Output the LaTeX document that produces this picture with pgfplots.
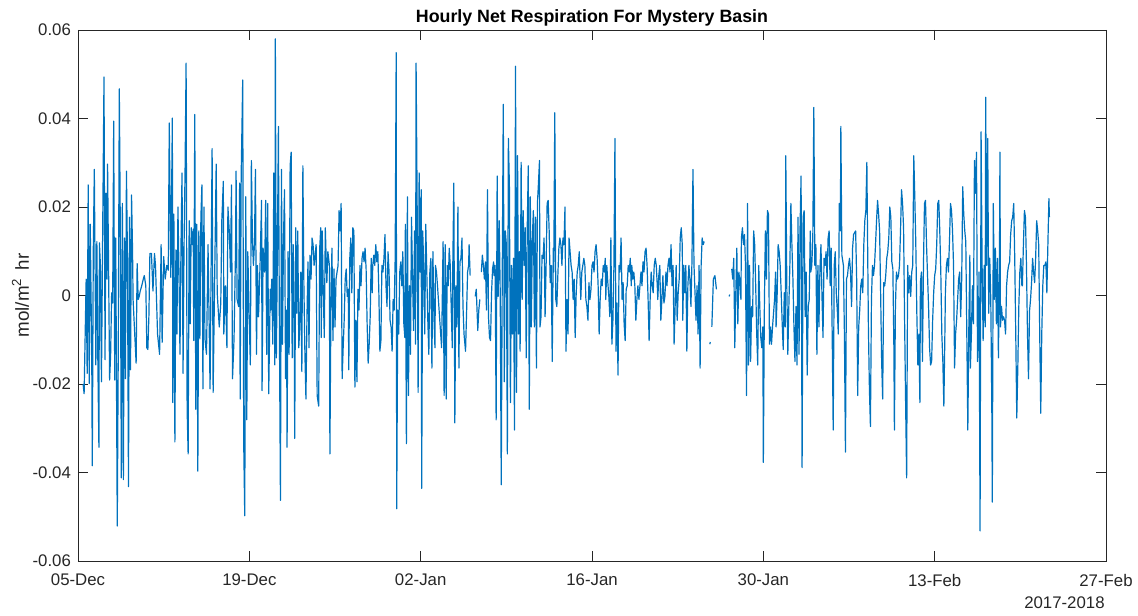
\documentclass[border=0pt]{standalone}
\usepackage{fontspec}
\setmainfont{Liberation Sans}
\usepackage{pgfplots}
\usepackage{pgfplotstable}
\pgfplotsset{compat=1.18}
\definecolor{mblue}{RGB}{0,114,189}
\definecolor{axgray}{RGB}{38,38,38}
\pgfplotstableread{
h v
10 -0.0200
12 -0.0222
16 0.0037
18 -0.0176
20 0.0250
22 -0.0199
24 0.0161
27 -0.0141
28 -0.0385
30 0.0103
32 0.0285
35 -0.0157
37 0.0122
39 -0.0157
41 -0.0343
42 0.0119
44 0.0068
46 -0.0195
48 0.0091
51 0.0494
53 -0.0145
55 0.0231
57 0.0037
58 0.0297
60 0.0057
62 -0.0191
64 -0.0133
66 0.0006
68 -0.0017
70 0.0394
72 -0.0191
74 0.0130
77 -0.0521
79 -0.0118
81 0.0467
83 0.0146
85 -0.0412
87 0.0208
89 -0.0416
91 0.0130
93 -0.0188
95 0.0281
97 0.0084
99 -0.0432
101 0.0177
103 -0.0168
105 0.0227
107 0.0099
108 -0.0009
114 -0.0153
116 0.0072
118 -0.0009
120 -0.0002
122 0.0010
125 0.0022
128 0.0037
130 0.0045
133 0.0022
135 -0.0118
137 -0.0122
139 -0.0048
141 0.0095
144 0.0095
147 0.0010
150 0.0095
152 0.0068
156 -0.0087
160 -0.0133
163 0.0115
165 -0.0106
168 0.0088
171 0.0037
174 0.0068
177 0.0057
179 0.0390
182 0.0041
185 0.0401
186 -0.0242
188 0.0184
190 -0.0331
192 0.0103
194 -0.0087
196 0.0200
198 0.0053
200 -0.0133
202 0.0115
204 0.0277
206 -0.0176
208 0.0115
210 0.0285
212 0.0525
214 -0.0257
216 -0.0358
218 0.0169
220 -0.0064
222 0.0153
224 0.0115
226 0.0150
227 -0.0102
229 0.0409
231 -0.0257
233 0.0161
235 -0.0397
237 0.0146
239 -0.0098
241 0.0177
243 0.0250
245 -0.0211
247 0.0200
249 -0.0098
252 -0.0133
255 0.0115
259 -0.0211
263 0.0332
265 -0.0219
271 0.0297
273 0.0006
277 -0.0071
280 -0.0017
282 0.0169
285 0.0258
286 -0.0087
289 0.0022
292 -0.0118
294 0.0200
297 0.0138
299 0.0053
301 0.0250
303 -0.0188
306 -0.0098
309 0.0107
310 0.0281
312 -0.0009
315 -0.0025
317 0.0254
318 -0.0234
320 0.0270
323 0.0487
325 -0.0335
327 -0.0498
329 0.0223
331 -0.0281
333 0.0099
336 -0.0064
338 -0.0157
340 0.0305
342 0.0130
344 0.0068
346 0.0115
348 0.0285
350 -0.0133
352 0.0068
354 -0.0048
357 0.0068
360 0.0215
361 -0.0215
363 0.0107
366 0.0053
368 0.0215
370 -0.0133
372 0.0208
374 -0.0222
377 0.0014
378 -0.0033
380 0.0037
382 -0.0110
384 0.0277
386 -0.0157
387 0.0580
389 -0.0141
391 0.0099
393 0.0382
395 -0.0079
397 -0.0463
399 0.0285
401 -0.0110
403 0.0130
405 0.0239
407 -0.0188
409 -0.0033
410 -0.0343
412 0.0099
414 -0.0133
416 0.0293
418 0.0324
420 -0.0141
422 0.0115
424 -0.0071
425 -0.0323
427 0.0153
429 -0.0040
431 0.0146
433 -0.0118
435 -0.0071
437 0.0053
439 -0.0172
441 0.0293
443 0.0022
445 -0.0133
447 -0.0234
449 -0.0048
451 0.0076
453 -0.0118
455 0.0091
457 0.0037
459 0.0130
461 0.0115
463 0.0068
465 0.0091
467 0.0115
469 -0.0226
472 -0.0250
474 0.0107
476 0.0153
477 -0.0095
479 0.0146
481 0.0006
483 -0.0095
485 0.0153
488 0.0029
490 0.0099
493 0.0068
494 -0.0358
496 -0.0025
498 0.0107
500 -0.0102
502 0.0060
504 -0.0071
506 0.0037
508 0.0053
510 0.0068
512 0.0192
514 0.0146
516 0.0208
518 -0.0188
520 -0.0118
522 -0.0056
524 0.0037
526 0.0060
528 -0.0002
530 0.0014
531 -0.0168
533 0.0084
535 0.0130
537 0.0006
539 0.0153
541 0.0146
543 -0.0207
545 -0.0056
547 -0.0195
549 0.0014
551 -0.0033
553 0.0068
555 0.0022
557 0.0084
559 0.0099
561 0.0076
563 0.0107
565 0.0060
567 -0.0064
569 -0.0153
571 -0.0110
573 -0.0048
575 0.0084
577 0.0006
578 0.0068
580 0.0091
582 0.0068
584 0.0115
586 0.0076
588 0.0099
590 0.0006
592 -0.0126
594 -0.0102
596 0.0068
598 0.0053
600 0.0084
602 0.0138
604 0.0022
606 -0.0025
608 0.0099
610 0.0053
612 -0.0056
614 -0.0071
616 -0.0126
618 -0.0009
620 -0.0033
622 0.0084
624 0.0549
625 -0.0482
627 -0.0033
629 -0.0087
631 0.0053
633 0.0076
635 0.0022
637 0.0099
639 -0.0064
641 -0.0095
642 0.0161
644 -0.0335
646 0.0223
648 -0.0226
650 0.0022
652 -0.0133
654 0.0177
656 0.0045
658 -0.0079
660 0.0146
662 -0.0110
663 0.0525
665 0.0223
667 -0.0219
669 0.0277
671 0.0053
673 0.0239
674 -0.0436
676 0.0146
678 0.0068
680 -0.0087
682 0.0161
684 0.0053
686 -0.0056
688 -0.0133
690 0.0053
692 0.0084
694 -0.0164
696 0.0099
698 -0.0048
700 -0.0118
701 0.0068
703 0.0053
705 0.0022
713 -0.0118
716 0.0122
718 -0.0226
720 0.0115
722 -0.0234
724 0.0068
726 0.0022
728 0.0107
730 0.0068
732 -0.0033
734 -0.0118
735 0.0068
737 0.0254
739 -0.0288
741 0.0022
743 -0.0071
745 0.0200
747 -0.0164
749 0.0076
751 0.0084
753 0.0130
755 -0.0025
757 -0.0087
760 -0.0126
762 -0.0040
764 0.0053
766 0.0068
767 0.0115
769 0.0045
770 nan
779 -0.0002
781 0.0014
783 -0.0048
784 -0.0079
786 -0.0033
788 -0.0009
789 nan
791 0.0053
793 0.0091
795 0.0068
797 0.0037
799 0.0076
801 -0.0033
803 0.0239
805 -0.0048
807 -0.0095
809 -0.0102
811 0.0006
813 0.0060
815 0.0076
816 0.0045
818 0.0068
820 -0.0281
822 0.0270
824 -0.0002
826 0.0169
828 0.0006
830 -0.0428
832 0.0053
834 0.0432
836 -0.0195
838 0.0146
840 0.0115
842 -0.0358
844 0.0355
846 0.0246
848 -0.0242
850 0.0068
852 -0.0087
854 0.0084
856 -0.0304
858 0.0518
860 -0.0219
862 0.0316
864 -0.0087
866 0.0099
867 -0.0126
869 0.0301
871 -0.0009
873 0.0192
875 0.0068
877 0.0153
879 -0.0141
881 0.0153
883 0.0293
885 -0.0257
887 0.0223
889 -0.0071
891 0.0130
893 0.0192
895 -0.0071
897 0.0177
899 -0.0164
901 0.0208
903 0.0254
905 0.0305
906 -0.0071
908 -0.0048
910 0.0091
912 0.0084
914 0.0130
916 -0.0048
918 0.0068
920 0.0208
922 0.0215
924 0.0146
926 0.0029
928 0.0068
930 -0.0149
932 0.0107
933 0.0053
935 0.0413
937 -0.0009
939 -0.0025
941 0.0045
943 0.0107
945 0.0130
947 0.0115
949 0.0068
951 0.0130
953 0.0115
955 0.0200
957 -0.0126
959 -0.0009
961 -0.0087
963 0.0130
965 0.0099
967 0.0068
969 0.0053
971 -0.0009
973 0.0037
975 -0.0095
977 0.0006
979 0.0053
981 0.0068
983 0.0099
986 -0.0009
988 0.0053
990 0.0068
992 0.0084
994 0.0068
996 -0.0009
998 -0.0025
1000 -0.0056
1002 0.0029
1004 -0.0009
1006 0.0014
1008 0.0068
1010 0.0076
1012 0.0053
1014 0.0099
1016 0.0115
1018 0.0084
1020 0.0022
1022 -0.0087
1024 -0.0009
1026 0.0037
1028 0.0022
1030 0.0068
1032 0.0053
1034 0.0084
1035 -0.0009
1037 0.0068
1039 0.0029
1041 -0.0002
1043 -0.0048
1045 0.0130
1047 -0.0110
1049 -0.0056
1051 0.0068
1053 0.0355
1055 -0.0126
1057 -0.0017
1059 -0.0180
1061 0.0068
1063 0.0053
1065 0.0130
1067 -0.0009
1069 0.0029
1071 -0.0064
1073 -0.0102
1075 0.0014
1077 0.0022
1079 0.0068
1081 0.0053
1083 0.0084
1085 0.0022
1086 0.0068
1088 0.0037
1090 0.0053
1092 0.0022
1094 -0.0056
1096 -0.0009
1098 0.0022
1100 -0.0009
1102 0.0022
1104 0.0053
1106 0.0022
1108 0.0076
1110 0.0053
1112 0.0099
1114 0.0107
1116 0.0068
1118 -0.0009
1120 -0.0102
1122 -0.0009
1124 0.0053
1126 0.0022
1128 0.0006
1130 0.0068
1132 0.0084
1134 0.0068
1136 0.0022
1137 -0.0009
1139 0.0045
1141 0.0068
1143 -0.0056
1145 -0.0009
1147 0.0045
1149 -0.0017
1151 -0.0002
1153 0.0053
1155 0.0022
1157 0.0068
1159 0.0084
1161 0.0053
1163 0.0115
1165 0.0022
1167 0.0068
1169 -0.0110
1171 -0.0025
1173 0.0068
1175 -0.0056
1177 0.0006
1179 0.0037
1181 0.0130
1183 0.0153
1185 0.0115
1186 -0.0056
1188 0.0068
1190 0.0006
1192 0.0068
1194 -0.0126
1196 0.0022
1198 0.0068
1200 0.0037
1202 -0.0025
1204 0.0076
1206 0.0285
1208 0.0068
1210 0.0006
1212 -0.0056
1214 0.0022
1216 -0.0087
1218 0.0068
1220 -0.0164
1222 0.0068
1224 0.0130
1226 0.0115
1228 0.0122
1229 nan
1239 -0.0110
1240 -0.0105
1241 nan
1243 -0.0071
1246 0.0037
1249 0.0045
1252 0.0014
1254 nan
1277 -0.0002
1278 0.0002
1279 nan
1282 0.0060
1284 0.0037
1286 0.0084
1288 -0.0118
1290 0.0006
1292 0.0107
1294 -0.0064
1296 0.0053
1298 0.0029
1300 -0.0009
1301 0.0130
1303 0.0153
1305 0.0115
1307 0.0138
1309 0.0068
1311 -0.0226
1313 0.0208
1315 -0.0157
1317 0.0068
1319 -0.0149
1321 -0.0025
1323 -0.0048
1325 0.0146
1327 0.0115
1329 0.0022
1331 -0.0087
1333 -0.0157
1335 0.0068
1337 -0.0025
1339 -0.0095
1341 -0.0118
1343 -0.0071
1344 -0.0377
1346 -0.0025
1348 0.0146
1350 0.0037
1352 0.0192
1354 0.0184
1356 -0.0110
1358 -0.0071
1360 -0.0110
1362 -0.0071
1364 -0.0040
1366 -0.0009
1368 0.0053
1369 -0.0071
1371 -0.0002
1373 0.0115
1375 0.0099
1377 0.0068
1379 0.0006
1381 -0.0064
1383 -0.0122
1385 0.0006
1387 -0.0071
1388 0.0316
1390 0.0022
1392 -0.0133
1394 -0.0025
1396 0.0068
1398 0.0208
1400 0.0115
1402 0.0037
1404 -0.0071
1406 -0.0149
1408 -0.0025
1410 -0.0157
1412 0.0177
1414 -0.0133
1416 0.0153
1418 0.0270
1420 -0.0389
1422 0.0177
1424 0.0192
1426 -0.0048
1428 0.0053
1430 -0.0180
1432 -0.0025
1434 -0.0009
1436 0.0146
1437 0.0053
1439 0.0068
1441 0.0130
1443 0.0425
1445 0.0068
1447 0.0115
1449 -0.0133
1451 0.0068
1453 -0.0071
1455 0.0060
1457 0.0115
1459 -0.0002
1461 -0.0095
1463 0.0084
1465 0.0068
1467 0.0099
1469 0.0037
1471 0.0130
1473 0.0146
1475 0.0022
1477 0.0107
1479 -0.0087
1481 -0.0304
1483 0.0068
1485 0.0099
1487 0.0006
1489 -0.0033
1491 -0.0087
1493 0.0208
1495 0.0146
1496 0.0382
1498 0.0091
1500 0.0076
1501 0.0068
1503 -0.0087
1505 -0.0354
1507 0.0037
1509 0.0045
1511 0.0068
1513 0.0084
1515 0.0053
1517 -0.0025
1519 0.0107
1521 0.0138
1523 0.0142
1525 0.0146
1527 0.0037
1529 -0.0226
1531 -0.0071
1533 -0.0033
1535 0.0022
1537 0.0037
1539 0.0006
1541 0.0115
1543 0.0169
1545 0.0192
1547 0.0301
1549 0.0053
1550 -0.0071
1552 -0.0211
1554 -0.0296
1556 -0.0009
1558 0.0068
1560 0.0045
1562 0.0068
1564 0.0115
1566 0.0169
1568 0.0215
1570 0.0184
1572 0.0146
1574 0.0006
1576 -0.0149
1578 -0.0234
1580 0.0029
1582 0.0022
1584 0.0045
1586 0.0084
1588 0.0099
1590 0.0130
1592 0.0200
1594 0.0177
1596 0.0076
1598 0.0060
1600 -0.0118
1601 -0.0304
1603 -0.0025
1605 0.0053
1607 0.0037
1609 0.0045
1611 0.0068
1613 0.0146
1615 0.0239
1617 0.0208
1619 0.0153
1621 -0.0056
1623 -0.0242
1625 -0.0412
1627 0.0068
1629 0.0006
1631 0.0045
1633 -0.0002
1635 0.0053
1637 0.0068
1639 0.0316
1641 0.0223
1643 0.0115
1645 -0.0040
1647 -0.0157
1649 -0.0087
1651 -0.0242
1652 0.0029
1654 0.0053
1656 -0.0149
1658 0.0068
1660 0.0208
1662 0.0215
1664 0.0115
1666 0.0045
1668 -0.0025
1670 -0.0118
1672 -0.0157
1674 -0.0149
1676 -0.0056
1678 0.0006
1680 0.0045
1682 0.0060
1684 0.0115
1686 0.0208
1688 0.0215
1690 0.0146
1692 0.0053
1694 -0.0087
1696 -0.0149
1698 -0.0250
1700 -0.0087
1701 0.0006
1703 0.0068
1705 0.0084
1707 0.0053
1709 0.0122
1711 0.0208
1713 0.0192
1715 0.0146
1717 0.0068
1719 -0.0164
1721 -0.0087
1723 -0.0056
1725 -0.0009
1727 0.0037
1729 0.0053
1731 -0.0048
1733 0.0037
1735 0.0246
1737 0.0184
1739 0.0146
1741 0.0122
1743 -0.0087
1745 -0.0304
1747 -0.0071
1749 0.0091
1750 -0.0164
1752 -0.0087
1754 0.0022
1756 -0.0064
1758 0.0305
1760 0.0231
1762 0.0324
1764 -0.0149
1766 -0.0087
1767 0.0053
1769 -0.0532
1771 0.0370
1773 0.0068
1775 -0.0102
1777 0.0068
1779 -0.0071
1780 0.0448
1782 0.0068
1784 0.0355
1786 -0.0040
1788 0.0084
1790 -0.0009
1792 -0.0242
1793 -0.0467
1795 0.0208
1797 -0.0009
1799 0.0107
1801 -0.0064
1803 0.0084
1805 -0.0141
1807 0.0068
1808 0.0324
1809 -0.0071
1811 -0.0025
1813 -0.0056
1815 -0.0048
1817 -0.0056
1819 -0.0087
1821 0.0022
1823 0.0053
1825 0.0068
1827 0.0076
1829 0.0138
1831 0.0169
1833 0.0177
1835 0.0208
1837 0.0084
1839 -0.0087
1841 -0.0277
1843 -0.0164
1845 -0.0025
1847 0.0053
1849 0.0084
1851 0.0022
1852 0.0022
1854 0.0115
1856 0.0192
1858 0.0177
1860 0.0068
1862 -0.0087
1864 -0.0188
1866 -0.0035
1868 -0.0009
1870 0.0029
1872 0.0084
1874 0.0053
1876 0.0029
1878 0.0084
1880 0.0169
1882 0.0146
1884 0.0115
1886 -0.0087
1888 -0.0266
1890 -0.0087
1892 0.0022
1894 0.0068
1896 0.0068
1898 0.0076
1900 0.0006
1902 0.0115
1904 0.0219
1905 0.0177
}\resp
\begin{document}
\begin{tikzpicture}
\useasboundingbox (-39pt,-27pt) rectangle (530pt,280.5pt);
\begin{axis}[
  name=ax,
  at={(0,0)}, anchor=south west,
  scale only axis, width=514pt, height=265.5pt,
  xmin=0, xmax=2016, ymin=-0.06, ymax=0.06,
  scaled y ticks=false, scaled x ticks=false,
  xtick={0,336,672,1008,1344,1680,2016},
  xticklabels={05-Dec,19-Dec,02-Jan,16-Jan,30-Jan,13-Feb,27-Feb},
  ytick={-0.06,-0.04,-0.02,0,0.02,0.04,0.06},
  yticklabels={-0.06,-0.04,-0.02,0,0.02,0.04,0.06},
  tick align=inside, major tick length=5pt,
  axis line style={axgray, line width=0.4pt},
  every tick/.style={axgray, line width=0.4pt},
  tick label style={font=\fontsize{8.4}{10}\selectfont, text=axgray},
  xticklabel style={yshift=-3pt},
  title={Hourly Net Respiration For Mystery Basin},
  every axis title/.style={at={(0.5,1)}, anchor=south, inner sep=0pt, yshift=1.8pt, font=\fontsize{8.9}{10.5}\selectfont\bfseries, text=black},
  ylabel={mol/m\textsuperscript{2}\hspace{0.4em}hr},
  ylabel style={font=\fontsize{9.4}{11}\selectfont, text=axgray, at={(axis description cs:-0.056,0.5)}, anchor=center},
  unbounded coords=jump,
  clip=true,
]
\addplot[mblue, line width=0.6pt, line join=round] table[x=h, y=v] {\resp};
\end{axis}
\node[anchor=north east, inner sep=0pt, font=\fontsize{8.4}{10}\selectfont, text=axgray] at ([yshift=-17.5pt, xshift=-0.5pt]ax.south east) {2017-2018};
\end{tikzpicture}
\end{document}
